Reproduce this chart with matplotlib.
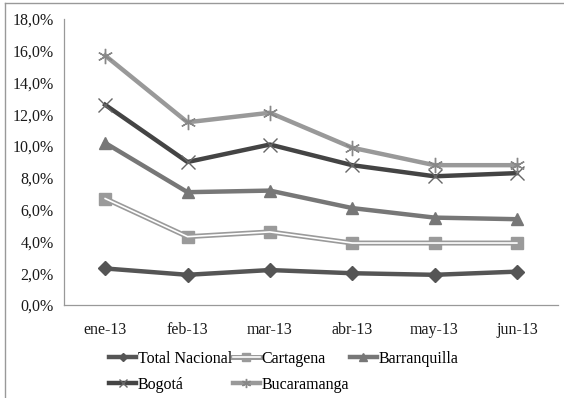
import matplotlib.pyplot as plt
from matplotlib.lines import Line2D
from matplotlib.ticker import FuncFormatter

# ---- data ----
months = ['ene-13', 'feb-13', 'mar-13', 'abr-13', 'may-13', 'jun-13']
total_nacional = [2.3, 1.9, 2.2, 2.0, 1.9, 2.1]
cartagena      = [6.7, 4.3, 4.6, 3.9, 3.9, 3.9]
barranquilla   = [10.2, 7.1, 7.2, 6.1, 5.5, 5.4]
bogota         = [12.6, 9.0, 10.1, 8.8, 8.1, 8.3]
bucaramanga    = [15.7, 11.5, 12.1, 9.9, 8.8, 8.8]
y_ticks = [0, 2, 4, 6, 8, 10, 12, 14, 16, 18]

# ---- style ----
plt.rcParams['font.family'] = ['Liberation Serif', 'DejaVu Serif']
TOTAL_C, CART_C, BARR_C, BOG_C, BUC_C = '#555555', '#9a9a9a', '#777777', '#444444', '#999999'
LW = 3.2
FS = 11.5

fig = plt.figure(figsize=(5.64, 3.98), dpi=100)
ax = fig.add_axes([64 / 564, 1 - 305 / 398, 494 / 564, 286 / 398])
x = list(range(len(months)))

h_total, = ax.plot(x, total_nacional, color=TOTAL_C, lw=LW, marker='D', ms=7,
                   mec=TOTAL_C, mfc=TOTAL_C, label='Total Nacional')
c_outer, = ax.plot(x, cartagena, color=CART_C, lw=3.6, marker='s', ms=9,
                   mec=CART_C, mfc=CART_C, zorder=2)
c_inner, = ax.plot(x, cartagena, color='white', lw=1.2, zorder=2.1)
h_barr, = ax.plot(x, barranquilla, color=BARR_C, lw=LW, marker='^', ms=9,
                  mec=BARR_C, mfc=BARR_C, label='Barranquilla')
h_bog, = ax.plot(x, bogota, color=BOG_C, lw=LW, marker='x', ms=10, mew=1.0,
                 mec='#666666', label='Bogotá')
h_buc, = ax.plot(x, bucaramanga, color=BUC_C, lw=LW, marker=(6, 2, 0), ms=11, mew=1.0,
                 mec='#888888', label='Bucaramanga')

ax.set_xlim(-0.5, len(months) - 0.5)
ax.set_ylim(0, 18)
ax.set_yticks(y_ticks)
ax.yaxis.set_major_formatter(FuncFormatter(lambda v, p: f"{v:.1f}%".replace('.', ',')))
ax.set_xticks(x)
ax.set_xticklabels(months)
ax.tick_params(axis='both', length=0, labelsize=FS, colors='#1a1a1a')
ax.tick_params(axis='y', pad=7.5)
ax.tick_params(axis='x', pad=12)
for s in ['top', 'right']:
    ax.spines[s].set_visible(False)
for s in ['left', 'bottom']:
    ax.spines[s].set_color('#999999')
    ax.spines[s].set_linewidth(0.9)

# legend: columns filled top-down, so order for rows (Total, Cartagena, Barranquilla / Bogota, Bucaramanga)
handles = [h_total, h_bog, (c_outer, c_inner), h_buc, h_barr]
labels = ['Total Nacional', 'Bogotá', 'Cartagena', 'Bucaramanga', 'Barranquilla']
fig.legend(handles, labels, loc='upper left', bbox_to_anchor=(101 / 564, 1 - 343 / 398),
           ncol=3, frameon=False, fontsize=FS, handlelength=1.7, handletextpad=0.1,
           columnspacing=0.05, labelspacing=0.6, markerscale=0.6, borderpad=0)

# outer chart frame (only top and left edges visible)
fig.add_artist(Line2D([5 / 564, 5 / 564], [0, 1 - 3 / 398], color='#999999', lw=1.0))
fig.add_artist(Line2D([5 / 564, 1], [1 - 3 / 398, 1 - 3 / 398], color='#999999', lw=1.0))

fig.savefig('out.png', dpi=100)
